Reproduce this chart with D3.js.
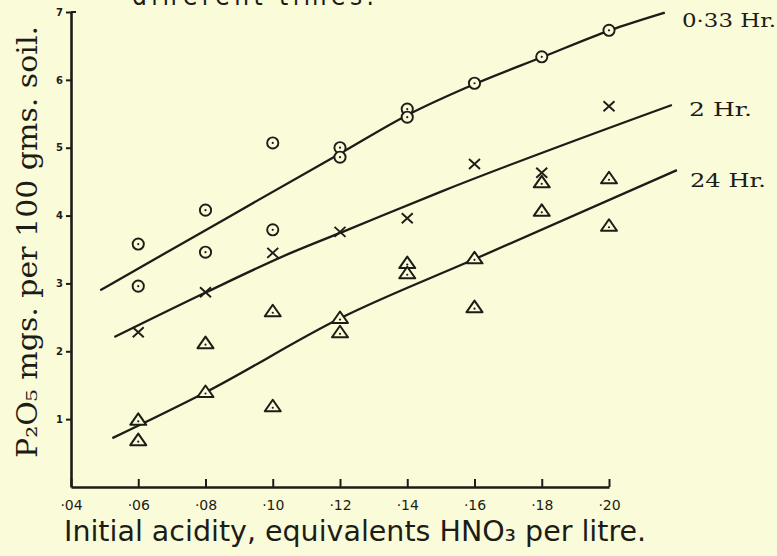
<!DOCTYPE html>
<html>
<head>
<meta charset="utf-8">
<script src="https://d3js.org/d3.v7.min.js"></script>
<style>
body { margin: 0; background: #fafbd9; }
svg { display: block; }
</style>
</head>
<body>
<svg id="chart" width="777" height="556"></svg>
<script>
// acidity of the acid used (equivalents HNO3 per litre)
var acidity = [0.06, 0.08, 0.10, 0.12, 0.14, 0.16, 0.18, 0.20];

// P2O5 dissolved, mgs per 100 gms soil (two soils at most acidities)
var hr033 = [[3.58, 2.96], [4.08, 3.46], [5.07, 3.79], [5.00, 4.86], [5.57, 5.45], [5.95], [6.34], [6.73]];
var hr2   = [[2.28], [2.87], [3.45], [3.76], [3.96], [4.76], [4.63], [5.61]];
var hr24  = [[0.99, 0.69], [2.12, 1.40], [2.59, 1.19], [2.49, 2.28], [3.30, 3.15], [3.37, 2.65], [4.49, 4.07], [4.55, 3.85]];

// hand drawn curves through the points
var fit033X = [0.0487, 0.0855, 0.1202, 0.1404, 0.1606, 0.1804, 0.2003, 0.2166];
var fit033Y = [2.90, 3.94, 4.92, 5.49, 5.95, 6.34, 6.73, 6.99];
var fit2X   = [0.0529, 0.0802, 0.1054, 0.1208, 0.1499, 0.2187];
var fit2Y   = [2.21, 2.87, 3.45, 3.76, 4.35, 5.63];
var fit24X  = [0.0523, 0.0802, 0.1202, 0.1606, 0.2202];
var fit24Y  = [0.72, 1.40, 2.49, 3.37, 4.67];

var curveNames = ['0·33 Hr.', '2 Hr.', '24 Hr.'];
var xTicks = [0.04, 0.06, 0.08, 0.10, 0.12, 0.14, 0.16, 0.18, 0.20];
var xTickLabels = ['·04', '·06', '·08', '·10', '·12', '·14', '·16', '·18', '·20'];
var yTicks = [1, 2, 3, 4, 5, 6, 7];

var ink = '#1d1c17';
var paper = '#fafbd9';
var svg = d3.select('#chart');

svg.append('rect').attr('width', 777).attr('height', 556).attr('fill', paper);

var xs = d3.scaleLinear().domain([0.04, 0.20]).range([71, 609]);
var ys = d3.scaleLinear().domain([0, 7]).range([487, 12]);

// flatten point arrays
function pts(series) {
  var out = [];
  series.forEach(function(vals, i) {
    vals.forEach(function(v) { out.push({x: acidity[i], y: v}); });
  });
  return out;
}

// caption line above, cut off by the page edge as in the scan
svg.append('text')
  .attr('x', 132).attr('y', 5)
  .attr('font-family', 'DejaVu Sans Condensed, DejaVu Sans')
  .attr('font-size', 26)
  .attr('textLength', 242)
  .attr('fill', ink)
  .text('different times.');

// x axis
var xAxis = svg.append('g')
  .attr('transform', 'translate(0,' + ys(0) + ')')
  .call(d3.axisBottom(xs).tickValues(xTicks)
    .tickFormat(function(d, i) { return xTickLabels[i]; })
    .tickSizeInner(-8).tickSizeOuter(0).tickPadding(13));
xAxis.select('.domain').attr('stroke', ink).attr('stroke-width', 2.6);
xAxis.selectAll('.tick line').attr('stroke', ink).attr('stroke-width', 2);
xAxis.selectAll('.tick text')
  .attr('fill', ink)
  .attr('font-family', 'DejaVu Sans')
  .attr('font-size', 14);

// y axis
var yAxis = svg.append('g')
  .attr('transform', 'translate(' + xs(0.04) + ',0)')
  .call(d3.axisLeft(ys).tickValues(yTicks).tickFormat(d3.format('d'))
    .tickSizeInner(5).tickSizeOuter(0).tickPadding(3));
yAxis.select('.domain').attr('stroke', ink).attr('stroke-width', 2.6);
yAxis.selectAll('.tick line').attr('stroke', ink).attr('stroke-width', 2);
yAxis.selectAll('.tick text')
  .attr('fill', ink)
  .attr('font-family', 'DejaVu Sans')
  .attr('font-weight', 'bold')
  .attr('font-size', 10);
// little hook at the top of the axis
svg.append('line')
  .attr('x1', xs(0.04)).attr('y1', ys(7))
  .attr('x2', xs(0.04) + 5).attr('y2', ys(7))
  .attr('stroke', ink).attr('stroke-width', 2);

// fitted curves
var line = d3.line().curve(d3.curveMonotoneX)
  .x(function(d) { return xs(d[0]); })
  .y(function(d) { return ys(d[1]); });

[[fit033X, fit033Y], [fit2X, fit2Y], [fit24X, fit24Y]].forEach(function(f) {
  svg.append('path')
    .datum(d3.zip(f[0], f[1]))
    .attr('d', line)
    .attr('fill', 'none')
    .attr('stroke', ink)
    .attr('stroke-width', 2.3);
});

// curve labels
var labelPos = [[682, 27, 94], [689, 116, 63], [690, 187, 76]];
curveNames.forEach(function(t, i) {
  svg.append('text')
    .attr('x', labelPos[i][0]).attr('y', labelPos[i][1])
    .attr('font-family', 'DejaVu Serif')
    .attr('font-size', 19)
    .attr('textLength', labelPos[i][2])
    .attr('lengthAdjust', 'spacingAndGlyphs')
    .attr('fill', ink)
    .text(t);
});

// 0.33 Hr: dotted circles
var gc = svg.append('g').selectAll('g')
  .data(pts(hr033)).enter()
  .append('g')
    .attr('transform', function(d) { return 'translate(' + xs(d.x) + ',' + ys(d.y) + ')'; });
gc.append('circle')
  .attr('r', 5.6)
  .attr('fill', paper)
  .attr('stroke', ink)
  .attr('stroke-width', 1.9);
gc.append('circle')
  .attr('r', 1.1)
  .attr('fill', ink);

// 2 Hr: crosses
svg.append('g').selectAll('path')
  .data(pts(hr2)).enter()
  .append('path')
    .attr('transform', function(d) { return 'translate(' + xs(d.x) + ',' + ys(d.y) + ')'; })
    .attr('d', 'M-5.5,-5L5.5,5M-5.5,5L5.5,-5')
    .attr('stroke', ink)
    .attr('stroke-width', 1.9)
    .attr('fill', 'none');

// 24 Hr: dotted triangles
var gt = svg.append('g').selectAll('g')
  .data(pts(hr24)).enter()
  .append('g')
    .attr('transform', function(d) { return 'translate(' + xs(d.x) + ',' + ys(d.y) + ')'; });
gt.append('path')
  .attr('d', 'M0,-6.5L8,5L-8,5Z')
  .attr('fill', paper)
  .attr('stroke', ink)
  .attr('stroke-width', 2)
  .attr('stroke-linejoin', 'round');
gt.append('circle')
  .attr('cx', 0).attr('cy', 1.5).attr('r', 1.1)
  .attr('fill', ink);

// axis titles
svg.append('text')
  .attr('transform', 'translate(37,458) rotate(-90)')
  .attr('font-family', 'DejaVu Serif')
  .attr('font-size', 27)
  .attr('textLength', 432)
  .attr('lengthAdjust', 'spacingAndGlyphs')
  .attr('fill', ink)
  .text('P₂O₅ mgs. per 100 gms. soil.');

svg.append('text')
  .attr('x', 64).attr('y', 541)
  .attr('font-family', 'DejaVu Sans Condensed, DejaVu Sans')
  .attr('font-size', 29)
  .attr('textLength', 582)
  .attr('lengthAdjust', 'spacingAndGlyphs')
  .attr('fill', ink)
  .text('Initial acidity, equivalents HNO₃ per litre.');
</script>
</body>
</html>
